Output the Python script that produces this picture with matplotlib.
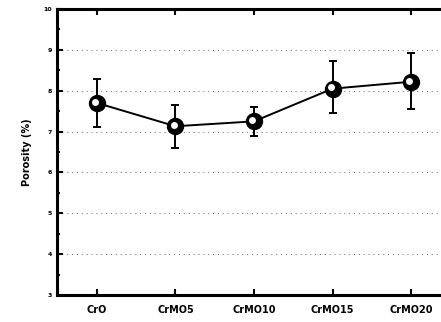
import matplotlib
matplotlib.use("Agg")
import matplotlib.pyplot as plt
import numpy as np

categories = ["CrO", "CrMO5", "CrMO10", "CrMO15", "CrMO20"]
porosity = [7.70, 7.13, 7.25, 8.05, 8.22]
err_upper = [8.28, 7.65, 7.60, 8.72, 8.93]
err_lower = [7.12, 6.60, 6.90, 7.45, 7.55]
yticks = [3, 4, 5, 6, 7, 8, 9, 10]

plt.rcParams['font.family'] = ['DejaVu Sans']
fig = plt.figure(figsize=(4.41, 3.22), dpi=100)
ax = fig.add_axes([0.129, 0.084, 0.869, 0.888])

x = np.arange(len(categories))
vals = np.array(porosity)
yerr = np.array([vals - np.array(err_lower), np.array(err_upper) - vals])

for yy in [4, 5, 6, 7, 8, 9]:
    ax.axhline(yy, color='#666666', lw=0.7, ls=(0, (1, 4)), zorder=0)

ax.errorbar(x, vals, yerr=yerr, fmt='-', color='black', lw=1.4,
            elinewidth=1.4, capsize=3, capthick=1.4, zorder=2)
ax.plot(x, vals, 'o', ms=11.5, color='black', zorder=3)
ax.plot(x - 0.02, vals + 0.03, 'o', ms=5, color='white', mec='none', zorder=4)

ax.set_xlim(-0.51, 4.37)
ax.set_ylim(3, 10)
ax.set_xticks(x)
ax.set_xticklabels(categories, fontsize=7, fontweight='bold')
ax.set_yticks(yticks)
ax.set_yticklabels([str(t) for t in yticks], fontsize=4.5, fontweight='bold')
ax.set_yticks(np.arange(3.5, 10, 1.0), minor=True)
ax.tick_params(axis='both', direction='in', width=1.5, length=4)
ax.tick_params(axis='x', pad=7, top=True)
ax.tick_params(axis='y', which='minor', direction='in', width=1.5, length=2.5)
ax.set_ylabel('Porosity (%)', fontsize=7, fontweight='bold', labelpad=8)

for s in ['left', 'bottom', 'top']:
    ax.spines[s].set_linewidth(2.2)
ax.spines['right'].set_visible(False)

fig.savefig('out.png', dpi=100)
